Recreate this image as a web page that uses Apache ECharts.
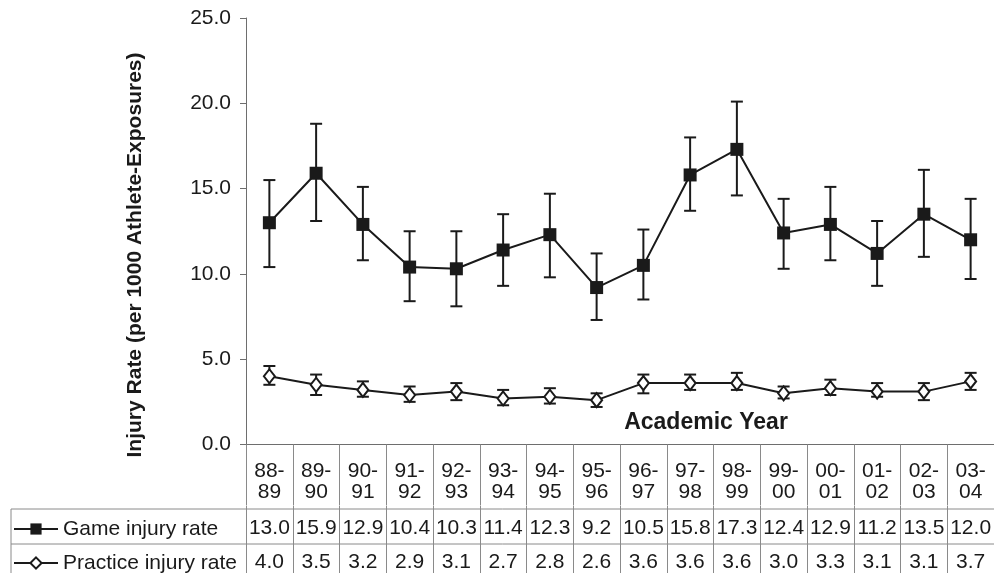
<!DOCTYPE html>
<html>
<head>
<meta charset="utf-8">
<script src="https://cdn.jsdelivr.net/npm/echarts@6/dist/echarts.min.js"></script>
<style>
html,body{margin:0;padding:0;background:#fff;}
#chart{width:994px;height:573px;}
</style>
</head>
<body>
<div id="chart"></div>
<script>
const years = ['88-\n89','89-\n90','90-\n91','91-\n92','92-\n93','93-\n94','94-\n95','95-\n96','96-\n97','97-\n98','98-\n99','99-\n00','00-\n01','01-\n02','02-\n03','03-\n04'];
const gameRate = [13.0,15.9,12.9,10.4,10.3,11.4,12.3,9.2,10.5,15.8,17.3,12.4,12.9,11.2,13.5,12.0];
const practiceRate = [4.0,3.5,3.2,2.9,3.1,2.7,2.8,2.6,3.6,3.6,3.6,3.0,3.3,3.1,3.1,3.7];
const gameLow  = [10.4,13.1,10.8,8.4,8.1,9.3,9.8,7.3,8.5,13.7,14.6,10.3,10.8,9.3,11.0,9.7];
const gameHigh = [15.5,18.8,15.1,12.5,12.5,13.5,14.7,11.2,12.6,18.0,20.1,14.4,15.1,13.1,16.1,14.4];
const practiceLow  = [3.5,2.9,2.8,2.5,2.6,2.3,2.4,2.2,3.0,3.2,3.2,2.7,2.9,2.8,2.6,3.2];
const practiceHigh = [4.6,4.1,3.7,3.4,3.6,3.2,3.3,3.0,4.1,4.1,4.2,3.4,3.8,3.6,3.6,4.2];
const yTicks = {min:0, max:25, interval:5};

const FONT = "'Liberation Sans', Arial, Helvetica, sans-serif";
const INK = '#1a1a1a';
const GRID_LINE = '#8a8a8a';

const chart = echarts.init(document.getElementById('chart'), null, {renderer:'canvas'});

function errRender(params, api){
  const idx = api.value(0);
  const lo = api.coord([idx, api.value(1)]);
  const hi = api.coord([idx, api.value(2)]);
  const hw = 6;
  const st = {stroke: INK, lineWidth: 2};
  return {type:'group', children:[
    {type:'line', shape:{x1:lo[0], y1:lo[1], x2:hi[0], y2:hi[1]}, style:st},
    {type:'line', shape:{x1:lo[0]-hw, y1:lo[1], x2:lo[0]+hw, y2:lo[1]}, style:st},
    {type:'line', shape:{x1:hi[0]-hw, y1:hi[1], x2:hi[0]+hw, y2:hi[1]}, style:st}
  ]};
}

const legendBase = {
  orient:'horizontal', left:8, padding:5,
  itemWidth:44, itemHeight:14,
  textStyle:{fontSize:21, lineHeight:22, color:INK, fontFamily:FONT},
  selectedMode:false
};

const option = {
  backgroundColor:'#fff',
  animation:false,
  textStyle:{fontFamily:FONT},
  grid:{left:246, right:-6, top:18, bottom:125.5},
  legend:[
    Object.assign({}, legendBase, {top:513, data:['Game injury rate']}),
    Object.assign({}, legendBase, {top:547, data:['Practice injury rate']})
  ],
  xAxis:[
    {type:'category', data:years, position:'bottom', gridIndex:0,
     axisLine:{lineStyle:{color:'#6e6e6e', width:1}},
     axisTick:{show:true, length:61, interval:0, lineStyle:{color:GRID_LINE}},
     axisLabel:{interval:0, fontSize:21, lineHeight:21, color:INK, margin:16, fontFamily:FONT}},
    {type:'category', data:gameRate.map(v=>v.toFixed(1)), position:'bottom', offset:61.5,
     axisLine:{show:false},
     axisTick:{show:true, length:35, interval:0, lineStyle:{color:GRID_LINE}},
     axisLabel:{interval:0, fontSize:21, lineHeight:21, color:INK, margin:12, fontFamily:FONT}},
    {type:'category', data:practiceRate.map(v=>v.toFixed(1)), position:'bottom', offset:96.5,
     axisLine:{show:false},
     axisTick:{show:true, length:35, interval:0, lineStyle:{color:GRID_LINE}},
     axisLabel:{interval:0, fontSize:21, lineHeight:21, color:INK, margin:11, fontFamily:FONT}}
  ],
  yAxis:{type:'value', min:yTicks.min, max:yTicks.max, interval:yTicks.interval,
    axisLine:{show:true, lineStyle:{color:'#6e6e6e'}},
    axisTick:{show:true, length:6, lineStyle:{color:'#6e6e6e'}},
    splitLine:{show:false},
    axisLabel:{fontSize:21, color:INK, margin:15, fontFamily:FONT, formatter:v=>v.toFixed(1)}
  },
  graphic:[
    {type:'line', shape:{x1:11, y1:509, x2:994, y2:509}, style:{stroke:GRID_LINE, lineWidth:1}},
    {type:'line', shape:{x1:11, y1:544, x2:994, y2:544}, style:{stroke:GRID_LINE, lineWidth:1}},
    {type:'line', shape:{x1:11, y1:509, x2:11, y2:573}, style:{stroke:GRID_LINE, lineWidth:1}},
    {type:'text', x:706, y:423, style:{text:'Academic Year', font:'bold 23px '+FONT, fill:INK, textAlign:'center', textVerticalAlign:'middle'}},
    {type:'text', x:135, y:255, rotation:Math.PI/2, style:{text:'Injury Rate (per 1000 Athlete-Exposures)', font:'bold 21px '+FONT, fill:INK, textAlign:'center', textVerticalAlign:'middle'}}
  ],
  series:[
    {type:'custom', name:'gameErr', xAxisIndex:0, renderItem:errRender, encode:{x:0, y:[1,2]},
     data:gameRate.map((v,i)=>[i, gameLow[i], gameHigh[i]]), z:2},
    {type:'custom', name:'practiceErr', xAxisIndex:0, renderItem:errRender, encode:{x:0, y:[1,2]},
     data:practiceRate.map((v,i)=>[i, practiceLow[i], practiceHigh[i]]), z:2},
    {type:'line', name:'Game injury rate', xAxisIndex:0, data:gameRate, z:3,
     symbol:'rect', symbolSize:13, showAllSymbol:true,
     itemStyle:{color:INK}, lineStyle:{color:INK, width:2}},
    {type:'line', name:'Practice injury rate', xAxisIndex:0, data:practiceRate, z:3,
     symbol:'diamond', symbolSize:[11,14], showAllSymbol:true,
     itemStyle:{color:'#fff', borderColor:INK, borderWidth:2}, lineStyle:{color:INK, width:2}}
  ]
};
chart.setOption(option);
</script>
</body>
</html>
